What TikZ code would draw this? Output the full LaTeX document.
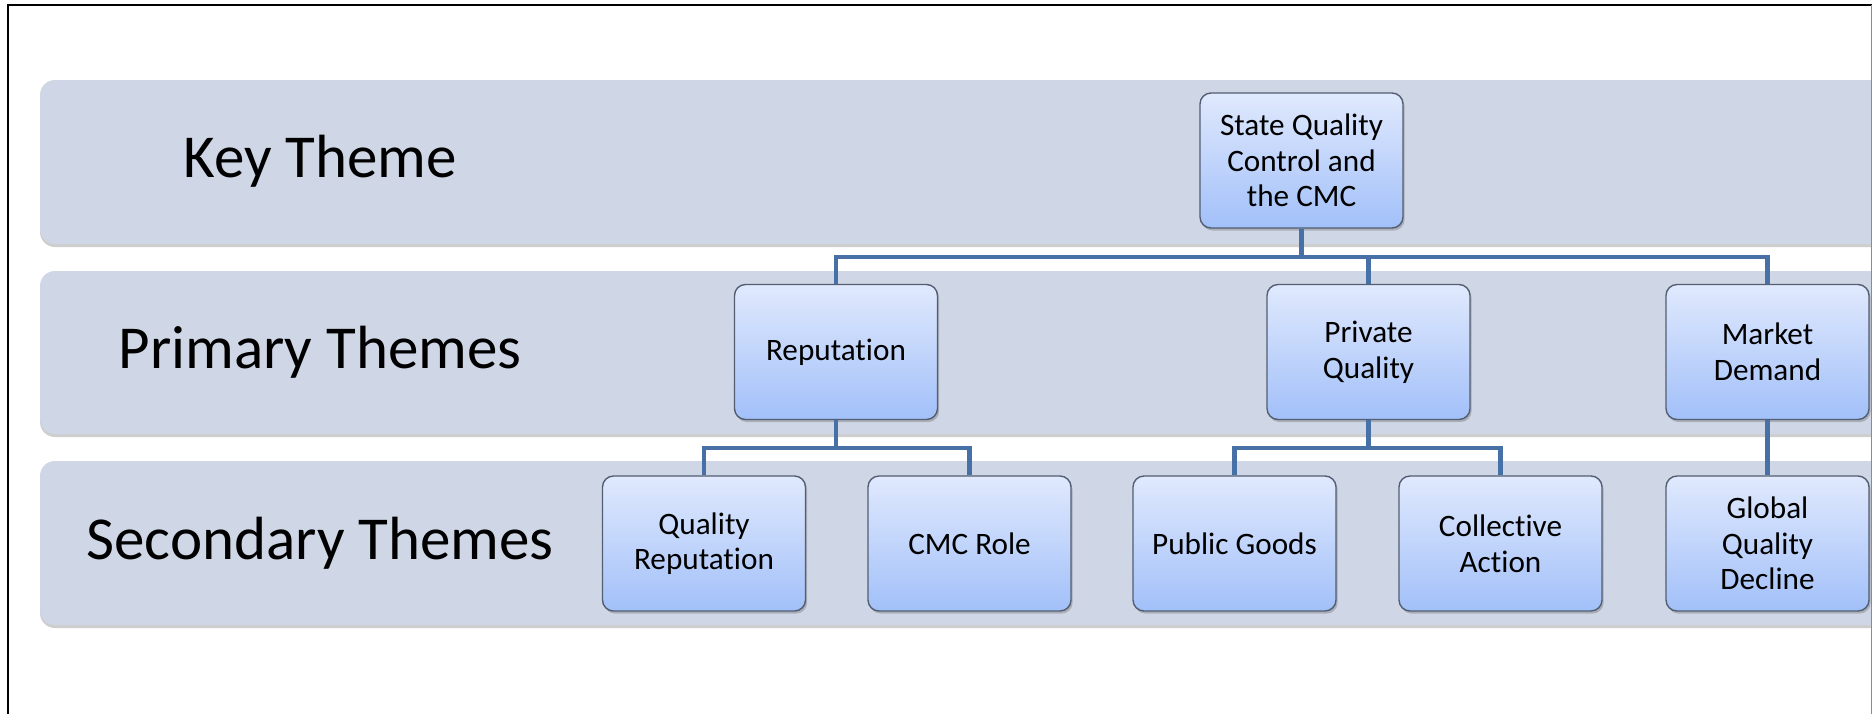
\documentclass[tikz,border=0pt]{standalone}
\usepackage{fontspec}
\setmainfont{Carlito}[Ligatures={NoCommon}]
\usetikzlibrary{shadows}

\definecolor{bandfill}{HTML}{CFD6E5}
\definecolor{boxtop}{HTML}{E0E9FD}
\definecolor{boxbot}{HTML}{A2C0F9}
\definecolor{boxline}{HTML}{525E72}
\definecolor{linkblue}{HTML}{4770A6}

\pgfdeclarelayer{bg}
\pgfsetlayers{bg,main}

\tikzset{
  band/.style={fill=bandfill, rounded corners=7.5pt,
    drop shadow={shadow xshift=0pt, shadow yshift=-1.5pt,
      opacity=0.35, fill=black!55}},
  bandlabel/.style={font=\fontsize{30.5pt}{36pt}\selectfont, anchor=center, inner sep=0pt},
  themebox/.style={draw=boxline, line width=0.7pt, rounded corners=5.5pt,
    top color=boxtop, bottom color=boxbot,
    minimum width=101.5pt, minimum height=67.5pt, inner sep=0pt,
    align=center, font=\fontsize{15.6pt}{17.8pt}\selectfont,
    drop shadow={shadow xshift=0.8pt, shadow yshift=-1.3pt,
      opacity=0.35, fill=black!60}},
  link/.style={draw=linkblue, line width=2.3pt, line join=miter}
}

\begin{document}
\begin{tikzpicture}[x=0.5pt, y=-0.5pt]
\useasboundingbox (0,0) rectangle (1872,713);

% paper, level bands and the frame
\begin{pgfonlayer}{bg}
  \fill[white] (0,0) rectangle (1872,713);
  \path[band] (40,80)  rectangle (1900,244);
  \path[band] (40,271) rectangle (1900,434);
  \path[band] (40,461) rectangle (1900,625);
  \draw[black, line width=1pt] (8,730) -- (8,5) -- (1880,5);
  \draw[black!45, line width=0.3pt] (1871.5,5) -- (1871.5,730);
\end{pgfonlayer}

\node[bandlabel] (lkey) at (320,161) {Key Theme};
\node[bandlabel] (lpri) at (320,352) {Primary Themes};
\node[bandlabel] (lsec) at (320,543) {Secondary Themes};

% hierarchy boxes
\node[themebox] (sqc)  at (1301.5,160.5) {State Quality\\Control and\\the CMC};

\node[themebox] (rep)  at (836,352)    {Reputation};
\node[themebox] (priv) at (1368.5,352) {Private\\Quality};
\node[themebox] (mkt)  at (1767.5,352) {Market\\Demand};

\node[themebox] (qrep) at (704,543.5)    {Quality\\Reputation};
\node[themebox] (cmc)  at (969.5,543.5)  {CMC Role};
\node[themebox] (pub)  at (1234.5,543.5) {Public Goods};
\node[themebox] (col)  at (1500.5,543.5) {Collective\\Action};
\node[themebox] (glob) at (1767.5,543.5) {Global\\Quality\\Decline};

% bus heights between the bands
\coordinate (busA) at (0,257);
\coordinate (busB) at (0,448);

% connectors
\draw[link] (sqc.south) -- (sqc.south |- busA) -| (rep.north);
\draw[link] (sqc.south |- busA) -| (priv.north);
\draw[link] (sqc.south |- busA) -| (mkt.north);

\draw[link] (rep.south) -- (rep.south |- busB) -| (qrep.north);
\draw[link] (rep.south |- busB) -| (cmc.north);

\draw[link] (priv.south) -- (priv.south |- busB) -| (pub.north);
\draw[link] (priv.south |- busB) -| (col.north);

\draw[link] (mkt.south) -- (glob.north);
\end{tikzpicture}
\end{document}
